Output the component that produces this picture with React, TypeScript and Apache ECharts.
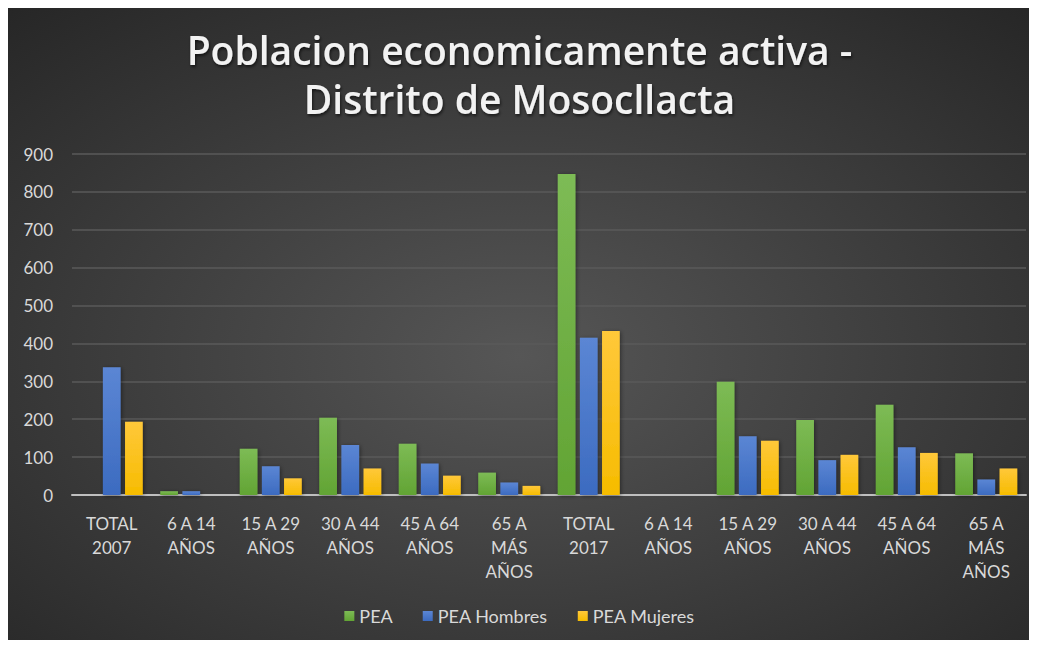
import React, { useEffect, useRef } from "react";
import * as echarts from "echarts";

const categories = [
  "TOTAL\n2007",
  "6 A 14\nAÑOS",
  "15 A 29\nAÑOS",
  "30 A 44\nAÑOS",
  "45 A 64\nAÑOS",
  "65 A\nMÁS\nAÑOS",
  "TOTAL\n2017",
  "6 A 14\nAÑOS",
  "15 A 29\nAÑOS",
  "30 A 44\nAÑOS",
  "45 A 64\nAÑOS",
  "65 A\nMÁS\nAÑOS",
];
const pea = [0, 10, 122, 204, 135, 59, 847, 0, 299, 198, 238, 110];
const peaHombres = [337, 10, 76, 132, 83, 33, 415, 0, 155, 92, 126, 41];
const peaMujeres = [193, 0, 44, 70, 51, 24, 433, 0, 143, 106, 111, 70];
const seriesNames = ["PEA", "PEA Hombres", "PEA Mujeres"];
const titleLines = ["Poblacion economicamente activa -", "Distrito de Mosocllacta"];

const grad = (top: string, bottom: string) =>
  new echarts.graphic.LinearGradient(0, 0, 0, 1, [
    { offset: 0, color: top },
    { offset: 1, color: bottom },
  ]);

export default function App() {
  const ref = useRef<HTMLDivElement>(null);
  useEffect(() => {
    if (!ref.current) return;
    const chart = echarts.init(ref.current, undefined, { renderer: "svg" });
    const font = "Lato, 'Noto Sans', sans-serif";
    const mk = (name: string, data: number[], top: string, bottom: string, legendColor: string) => ({
      name,
      type: "bar",
      data,
      barGap: "25%",
      barCategoryGap: "22%",
      color: legendColor,
      itemStyle: {
        color: grad(top, bottom),
        shadowColor: "rgba(0,0,0,0.45)",
        shadowBlur: 4,
        shadowOffsetX: 1,
        shadowOffsetY: 1,
      },
    });
    const titleStyle = {
      fontFamily: "'Open Sans', sans-serif",
      fontWeight: 600,
      fontSize: 39,
      lineHeight: 40,
      color: "#f2f2f2",
      textShadowColor: "rgba(0,0,0,0.6)",
      textShadowBlur: 3,
      textShadowOffsetX: 1,
      textShadowOffsetY: 2,
    };
    chart.setOption({
      animation: false,
      backgroundColor: {
        type: "radial",
        x: 0.5,
        y: 0.55,
        r: 0.75,
        colorStops: [
          { offset: 0, color: "#565656" },
          { offset: 1, color: "#262626" },
        ],
      },
      title: [
        { text: titleLines[0], left: "center", top: 21, padding: 0, textStyle: titleStyle },
        { text: titleLines[1], left: "center", top: 70, padding: 0, textStyle: titleStyle },
      ],
      legend: {
        data: seriesNames,
        bottom: 10,
        left: "center",
        itemWidth: 10,
        itemHeight: 10,
        itemGap: 30,
        icon: "rect",
        textStyle: { color: "#d9d9d9", fontSize: 18, fontFamily: font },
      },
      grid: { left: 64, right: 5, top: 146, bottom: 145, containLabel: false },
      xAxis: {
        type: "category",
        data: categories,
        axisLine: { lineStyle: { color: "#bfbfbf", width: 2 } },
        axisTick: { show: false },
        axisLabel: {
          color: "#d9d9d9",
          fontSize: 17,
          fontFamily: font,
          lineHeight: 24,
          interval: 0,
          margin: 16,
        },
      },
      yAxis: {
        type: "value",
        min: 0,
        max: 900,
        interval: 100,
        axisLine: { show: false },
        axisTick: { show: false },
        axisLabel: { color: "#d9d9d9", fontSize: 17, fontFamily: font, margin: 19 },
        splitLine: { lineStyle: { color: "#5a5a5a", width: 1.5 } },
      },
      series: [
        mk(seriesNames[0], pea, "#7dbb55", "#62a434", "#70AD47"),
        mk(seriesNames[1], peaHombres, "#5b86d4", "#3c6bc0", "#4472C4"),
        mk(seriesNames[2], peaMujeres, "#ffc83a", "#f6bc00", "#FFC000"),
      ],
    });
    return () => chart.dispose();
  }, []);
  return <div ref={ref} style={{ width: 1023, height: 632 }} />;
}
